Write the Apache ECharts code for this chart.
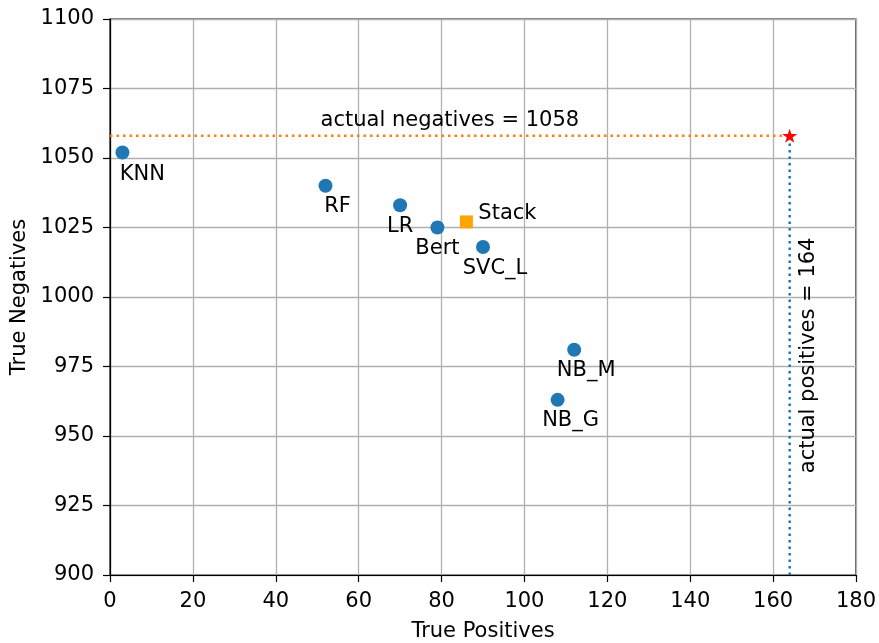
<!DOCTYPE html>
<html>
<head>
<meta charset="utf-8">
<script src="https://cdn.jsdelivr.net/npm/echarts@6/dist/echarts.min.js"></script>
<style>html,body{margin:0;padding:0;background:#fff;}#c{width:879px;height:643px;}</style>
</head>
<body>
<div id="c"></div>
<script>
// Data
const modelNames = ['KNN', 'RF', 'LR', 'Bert', 'SVC_L', 'NB_M', 'NB_G'];
const truePositives = [3, 52, 70, 79, 90, 112, 108];
const trueNegatives = [1052, 1040, 1033, 1025, 1018, 981, 963];
const stackName = 'Stack';
const stackTP = 86;
const stackTN = 1027;
const actualPositives = 164;
const actualNegatives = 1058;
const xTicks = [0, 20, 40, 60, 80, 100, 120, 140, 160, 180];
const yTicks = [900, 925, 950, 975, 1000, 1025, 1050, 1075, 1100];

// label offsets (pixels) for the model annotations
const labelOffsets = [[20, 22], [12, 21], [0, 21], [0, 21], [12, 22], [12, 21], [13, 21]];

const FONT = 'DejaVu Sans';
const FS = 21;
const starPath = 'path://M50 0 L61.23 34.55 L97.55 34.55 L68.17 55.9 L79.39 90.45 L50 69.1 L20.61 90.45 L31.83 55.9 L2.45 34.55 L38.77 34.55 Z';

const modelData = modelNames.map((n, i) => ({
  value: [truePositives[i], trueNegatives[i]],
  name: n,
  label: { offset: labelOffsets[i] }
}));

const chart = echarts.init(document.getElementById('c'));
chart.setOption({
  animation: false,
  backgroundColor: '#fff',
  grid: { left: 110, right: 23, top: 19, bottom: 68, containLabel: false, outerBoundsMode: 'none', show: true, borderColor: '#000', borderWidth: 1.2, backgroundColor: 'transparent' },
  xAxis: {
    type: 'value', min: xTicks[0], max: xTicks[xTicks.length - 1], interval: 20,
    name: 'True Positives', nameLocation: 'middle', nameGap: 46,
    nameTextStyle: { fontFamily: FONT, fontSize: FS, color: '#000' },
    axisLine: { show: true, lineStyle: { color: '#000', width: 1.2 } },
    axisTick: { show: true, inside: false, length: 7, lineStyle: { color: '#000', width: 1.2 } },
    axisLabel: { fontFamily: FONT, fontSize: FS, color: '#000', margin: 16, formatter: v => String(v) },
    splitLine: { show: true, lineStyle: { color: '#b0b0b0', width: 1.3 } }
  },
  yAxis: {
    type: 'value', min: yTicks[0], max: yTicks[yTicks.length - 1], interval: 25,
    name: 'True Negatives', nameLocation: 'middle', nameGap: 74,
    nameTextStyle: { fontFamily: FONT, fontSize: FS, color: '#000' },
    axisLine: { show: true, lineStyle: { color: '#000', width: 1.2 } },
    axisTick: { show: true, inside: false, length: 7, lineStyle: { color: '#000', width: 1.2 } },
    axisLabel: { fontFamily: FONT, fontSize: FS, color: '#000', margin: 16, formatter: v => String(v) },
    splitLine: { show: true, lineStyle: { color: '#b0b0b0', width: 1.3 } }
  },
  series: [
    {
      type: 'line', name: 'negLine', symbol: 'none', silent: true, z: 3,
      data: [[xTicks[0], actualNegatives], [actualPositives, actualNegatives]],
      lineStyle: { color: '#ff7f0e', width: 2.5, type: [2.5, 4] }
    },
    {
      type: 'line', name: 'posLine', symbol: 'none', silent: true, z: 3,
      data: [[actualPositives, yTicks[0]], [actualPositives, actualNegatives]],
      lineStyle: { color: '#1f77b4', width: 2.5, type: [2.5, 4] }
    },
    {
      type: 'scatter', name: 'models', symbol: 'circle', symbolSize: 14, z: 4,
      itemStyle: { color: '#1f77b4', opacity: 1 },
      label: { show: true, position: 'inside', formatter: '{b}', fontFamily: FONT, fontSize: FS, color: '#000' },
      data: modelData
    },
    {
      type: 'scatter', name: 'stack', symbol: 'rect', symbolSize: 13, z: 4,
      itemStyle: { color: '#ffa500', opacity: 1 },
      label: { show: true, position: 'inside', offset: [41, -8], formatter: '{b}', fontFamily: FONT, fontSize: FS, color: '#000' },
      data: [{ value: [stackTP, stackTN], name: stackName }]
    },
    {
      type: 'scatter', name: 'star', symbol: starPath, symbolSize: [15, 14], z: 5,
      itemStyle: { color: '#ff0000', opacity: 1 },
      data: [[actualPositives, actualNegatives]]
    },
    {
      type: 'scatter', name: 'negText', symbolSize: 0, z: 6, silent: true,
      itemStyle: { opacity: 1 },
      label: { show: true, position: 'top', distance: 5, formatter: 'actual negatives = ' + actualNegatives, fontFamily: FONT, fontSize: FS, color: '#000', opacity: 1 },
      data: [[actualPositives / 2, actualNegatives]]
    },
    {
      type: 'scatter', name: 'posText', symbolSize: 0, z: 6, silent: true,
      itemStyle: { opacity: 1 },
      label: { show: true, position: 'inside', rotate: 90, offset: [0, 19], formatter: 'actual positives = ' + actualPositives, fontFamily: FONT, fontSize: FS, color: '#000', opacity: 1 },
      data: [[actualPositives, (yTicks[0] + actualNegatives) / 2]]
    }
  ]
});
</script>
</body>
</html>
